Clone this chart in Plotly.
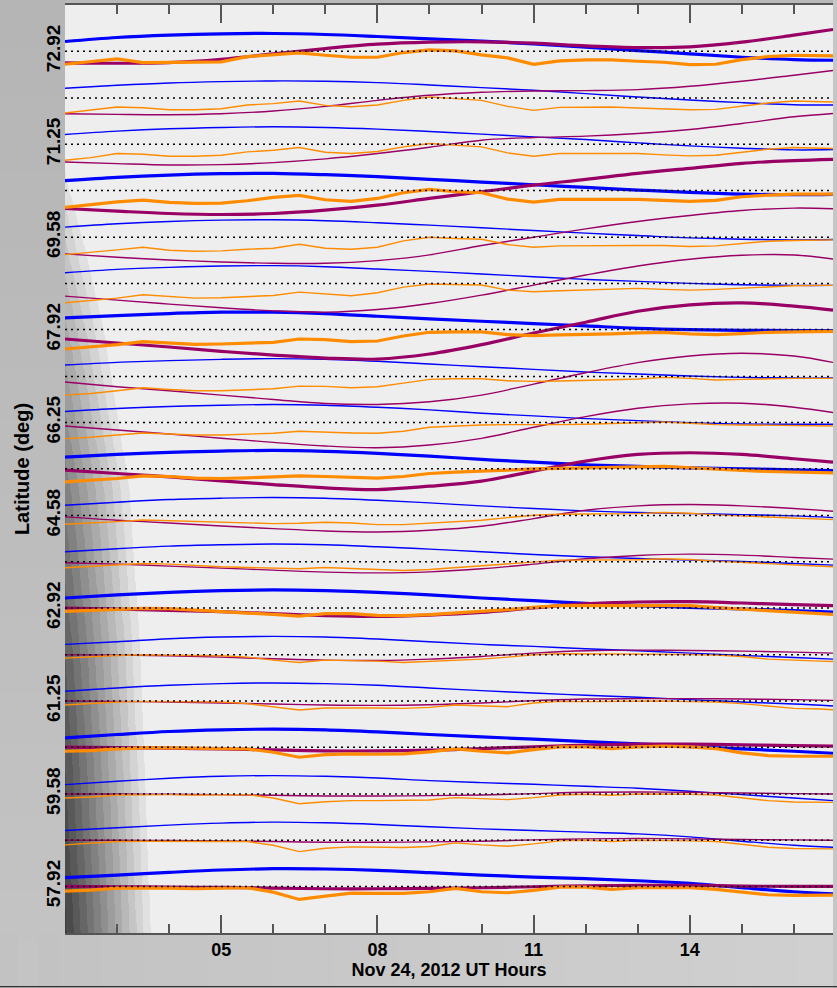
import numpy as np
import plotly.graph_objects as go

# ---------------------------------------------------------------- time axes
HOURS_SMOOTH = [2, 3, 4, 5, 6, 7, 8, 9, 10, 11, 12, 13, 14, 15, 16, 16.75]
HOURS_OBS = [2.0, 2.5, 3.0, 3.5, 4.0, 4.5, 5.0, 5.5, 6.0, 6.5, 7.0, 7.5, 8.0, 8.5,
             9.0, 9.5, 10.0, 10.5, 11.0, 11.5, 12.0, 12.5, 13.0, 13.5, 14.0, 14.5,
             15.0, 15.5, 16.0, 16.5, 16.75]

# ------------------------------------------------------- station baselines
ROW_LATS = [72.92, 72.08, 71.25, 70.42, 69.58, 68.75, 67.92, 67.08, 66.25, 65.42,
            64.58, 63.75, 62.92, 62.08, 61.25, 60.42, 59.58, 58.75, 57.92]
THICK_ROWS = [0, 3, 6, 9, 12, 15, 18]
LAT_TICKS = [72.92, 71.25, 69.58, 67.92, 66.25, 64.58, 62.92, 61.25, 59.58, 57.92]
LAT_LABELS = ["72.92", "71.25", "69.58", "67.92", "66.25", "64.58", "62.92",
              "61.25", "59.58", "57.92"]
HOUR_TICKS = [5, 8, 11, 14]
HOUR_LABELS = ["05", "08", "11", "14"]

# deflections in nT; one row spacing corresponds to 139 nT
ROW_SPACING_NT = 139.0

BLUE_NT = [
    [29, 41, 48, 52, 53, 50, 44, 37, 30, 22, 12, 2, -8, -18, -25, -27],
    [29, 38, 45, 49, 51, 50, 46, 39, 31, 23, 13, 3, -6, -14, -20, -21],
    [29, 39, 46, 50, 52, 50, 45, 38, 30, 22, 14, 4, -5, -12, -17, -16],
    [29, 39, 46, 50, 51, 47, 41, 33, 25, 17, 9, 1, -6, -11, -13, -12],
    [30, 40, 47, 51, 52, 49, 43, 36, 28, 20, 12, 5, -2, -6, -8, -7],
    [32, 42, 48, 52, 53, 50, 43, 36, 28, 20, 12, 6, 0, -4, -6, -6],
    [35, 42, 48, 52, 52, 48, 40, 32, 25, 18, 11, 4, 0, -2, -3, -3],
    [34, 42, 47, 51, 53, 51, 45, 37, 29, 21, 13, 7, 1, -3, -5, -5],
    [33, 42, 48, 52, 54, 52, 46, 38, 28, 20, 12, 6, 0, -4, -5, -5],
    [35, 43, 49, 53, 55, 52, 46, 38, 28, 20, 12, 7, 3, 0, -3, -5],
    [31, 40, 48, 52, 54, 52, 46, 38, 29, 21, 14, 9, 6, 3, -1, -6],
    [30, 39, 47, 51, 53, 51, 45, 38, 30, 22, 15, 10, 5, 1, -5, -10],
    [30, 39, 47, 52, 54, 52, 47, 39, 30, 22, 14, 7, 2, -3, -8, -12],
    [31, 39, 48, 53, 55, 53, 47, 39, 31, 25, 18, 12, 5, -2, -8, -13],
    [29, 39, 47, 52, 54, 52, 47, 39, 31, 24, 17, 11, 4, -3, -9, -15],
    [28, 38, 47, 52, 54, 52, 46, 38, 31, 24, 17, 10, 2, -5, -12, -18],
    [28, 38, 47, 53, 55, 53, 48, 40, 34, 29, 23, 17, 8, -2, -12, -20],
    [29, 37, 45, 51, 54, 52, 47, 40, 34, 29, 24, 19, 10, -3, -15, -21],
    [26, 34, 42, 49, 53, 52, 48, 41, 34, 28, 23, 17, 9, -4, -16, -22],
]

PURPLE_NT = [
    [-35, -36, -34, -24, -8, 8, 21, 27, 28, 24, 16, 11, 13, 27, 48, 65],
    [-47, -49, -50, -47, -39, -25, -7, 8, 17, 21, 22, 25, 35, 50, 68, 82],
    [-53, -58, -62, -61, -55, -44, -28, -9, 12, 20, 24, 32, 44, 62, 82, 92],
    [-54, -62, -69, -72, -69, -59, -44, -24, -4, 16, 33, 51, 66, 81, 89, 93],
    [-50, -60, -68, -74, -78, -78, -70, -53, -25, 0, 25, 47, 65, 80, 87, 85],
    [-38, -50, -62, -73, -82, -86, -78, -60, -35, -5, 25, 52, 72, 84, 85, 73],
    [-28, -40, -52, -65, -76, -85, -88, -73, -45, -10, 22, 55, 74, 80, 70, 58],
    [-17, -31, -43, -56, -69, -81, -84, -76, -56, -23, 11, 41, 61, 69, 61, 42],
    [-10, -22, -34, -47, -59, -70, -75, -67, -47, -14, 18, 43, 56, 58, 46, 30],
    [-4, -14, -24, -36, -47, -57, -62, -52, -37, -7, 23, 43, 48, 43, 30, 20],
    [-4, -14, -22, -31, -39, -46, -49, -44, -32, -9, 16, 29, 33, 29, 21, 13],
    [-3, -7, -13, -19, -25, -31, -33, -30, -21, -7, 9, 19, 23, 20, 13, 8],
    [0, -3, -7, -11, -17, -23, -25, -21, -13, 0, 13, 18, 19, 15, 10, 7],
    [0, -1, -3, -7, -12, -16, -17, -13, -5, 5, 12, 14, 13, 11, 8, 5],
    [0, -1, -3, -6, -9, -12, -13, -11, -6, 1, 6, 7, 7, 6, 4, 2],
    [0, -1, -3, -5, -8, -11, -11, -9, -4, 1, 6, 9, 9, 7, 5, 3],
    [0, 0, -1, -2, -4, -6, -6, -5, -3, 1, 5, 6, 5, 3, 1, 0],
    [0, 0, -1, -2, -4, -6, -6, -5, -3, 1, 4, 5, 4, 2, 1, 0],
    [0, -1, -2, -3, -5, -7, -7, -6, -4, -1, 2, 3, 3, 1, 0, 0],
]

ORANGE_NT = [
    [-39, -31, -23, -34, -33, -34, -32, -16, -11, -5, -12, -18, -18, -4, 4, 1, -11, -20, -39, -29, -26, -26, -30, -33, -40, -39, -25, -16, -12, -13, -14],
    [-45, -37, -27, -29, -35, -35, -32, -21, -17, -9, -22, -26, -21, -7, 3, -2, -7, -25, -37, -28, -27, -27, -30, -33, -35, -34, -25, -15, -9, -11, -12],
    [-48, -40, -28, -30, -36, -36, -33, -23, -18, -10, -24, -28, -22, -8, 2, -3, -8, -26, -36, -28, -28, -26, -28, -32, -35, -33, -23, -15, -10, -12, -13],
    [-51, -42, -34, -29, -36, -39, -38, -31, -21, -15, -28, -33, -24, -7, 3, -4, -7, -26, -35, -27, -27, -25, -27, -30, -33, -30, -19, -14, -11, -11, -11],
    [-52, -46, -38, -30, -39, -42, -41, -36, -33, -21, -33, -36, -30, -11, 0, -4, -6, -22, -30, -26, -25, -24, -25, -25, -28, -26, -18, -12, -10, -9, -8],
    [-58, -52, -44, -34, -40, -44, -43, -39, -36, -26, -32, -37, -28, -11, -2, -3, -5, -20, -25, -22, -20, -19, -15, -18, -20, -18, -14, -10, -7, -6, -6],
    [-58, -52, -45, -36, -40, -44, -43, -41, -38, -28, -30, -36, -34, -19, -8, -7, -7, -15, -18, -16, -15, -13, -10, -8, -13, -15, -12, -8, -7, -6, -5],
    [-56, -51, -43, -34, -39, -43, -43, -41, -37, -29, -30, -34, -31, -20, -9, -7, -7, -13, -15, -14, -11, -10, -8, -3, -6, -11, -9, -7, -6, -6, -6],
    [-48, -44, -37, -31, -34, -37, -37, -34, -32, -26, -29, -31, -32, -26, -14, -10, -7, -6, -7, -6, -5, -2, -1, 2, -2, -6, -7, -8, -8, -9, -10],
    [-39, -35, -29, -21, -23, -28, -29, -27, -25, -21, -23, -26, -28, -23, -14, -10, -8, -4, 0, 2, 2, 5, 6, 7, 3, -3, -5, -8, -10, -11, -12],
    [-26, -23, -18, -13, -15, -19, -21, -22, -24, -23, -20, -22, -27, -27, -22, -17, -14, -6, 1, 4, 4, 5, 6, 9, 7, 2, -1, -5, -7, -10, -12],
    [-18, -14, -9, -5, -7, -12, -15, -17, -20, -21, -17, -20, -25, -26, -23, -17, -13, -7, 0, 5, 5, 5, 6, 9, 7, 2, -2, -7, -10, -13, -15],
    [-10, -7, -4, -1, -2, -7, -11, -15, -19, -24, -17, -17, -22, -23, -20, -15, -12, -5, 2, 7, 7, 7, 7, 8, 7, 1, -4, -9, -13, -17, -19],
    [-10, -5, -2, 0, 0, -2, -3, -7, -16, -23, -16, -17, -19, -23, -20, -15, -13, -7, 0, 3, 3, 3, 3, 2, 1, -1, -5, -13, -17, -19, -20],
    [-12, -7, -3, -1, -1, -2, -3, -8, -18, -27, -21, -20, -21, -22, -19, -12, -14, -17, -6, -1, -2, -1, 0, 0, -2, -3, -8, -16, -22, -24, -26],
    [-12, -10, -5, -2, -2, -3, -4, -5, -15, -30, -22, -20, -21, -20, -14, -5, -12, -17, -7, 1, 1, -4, 1, 3, 1, -4, -17, -25, -27, -27, -27],
    [-12, -9, -3, -2, -2, -3, -3, -2, -12, -29, -23, -20, -20, -20, -18, -11, -15, -17, -11, -3, -1, -4, 0, 0, -1, -3, -12, -20, -24, -25, -25],
    [-14, -10, -4, -3, -4, -4, -4, -4, -15, -34, -24, -20, -21, -22, -19, -8, -14, -18, -11, -2, 0, -4, 0, 0, -2, -4, -13, -21, -25, -26, -26],
    [-14, -11, -5, -4, -5, -7, -6, -4, -17, -39, -29, -20, -21, -21, -16, -6, -16, -19, -12, -2, -2, -9, -4, -4, -4, -9, -17, -25, -27, -26, -26],
]

# night-side shading: latitude, width past 02 UT (hours), grey level at 02 UT
SHADE_LAT = [57.06, 59.63, 62.32, 65.02, 67.89, 69.51, 70.94]
SHADE_EDGE_H = [1.78, 1.69, 1.58, 1.40, 0.92, 0.52, 0.06]
SHADE_GREY = [58, 72, 90, 120, 165, 196, 228]

X_RANGE = [2.0, 16.75]
Y_RANGE = [57.0833, 73.75]

BLUE = "#0000ff"
PURPLE = "#990066"
ORANGE = "#ff8c00"
PLOT_BG = "#eeeeee"
FONT = "Liberation Sans, Arial, Helvetica, sans-serif"
TEXT = "#000000"

deg_per_nt = (ROW_LATS[0] - ROW_LATS[2]) / 2.0 / ROW_SPACING_NT

fig = go.Figure()

# ---------------------------------------------------------- shading field
t_grid = np.arange(2.0, 4.0, 0.01)
lat_grid = np.arange(Y_RANGE[0], Y_RANGE[1], 0.04)
edge = np.interp(lat_grid, SHADE_LAT, SHADE_EDGE_H, right=0.0)
left = (238.0 - np.interp(lat_grid, SHADE_LAT, SHADE_GREY, right=238.0)) / 190.0
frac = np.clip(1.0 - (t_grid[None, :] - 2.0) / np.maximum(edge[:, None], 1e-6), 0, 1)
shade = np.floor(left[:, None] * frac * 14.0) / 14.0
fig.add_trace(go.Heatmap(
    x=t_grid, y=lat_grid, z=shade, zmin=0, zmax=1, zsmooth=False,
    colorscale=[[0, PLOT_BG], [1, "#303030"]], showscale=False, hoverinfo="skip"))

# ---------------------------------------------------------- station traces
def row_width(i, thick, thin):
    return thick if i in THICK_ROWS else thin

for i, lat in enumerate(ROW_LATS):
    fig.add_trace(go.Scatter(
        x=HOURS_SMOOTH, y=[lat + v * deg_per_nt for v in BLUE_NT[i]],
        mode="lines", line=dict(color=BLUE, width=row_width(i, 3.2, 1.4),
                                shape="spline", smoothing=1.0),
        showlegend=False, hoverinfo="skip"))
for i, lat in enumerate(ROW_LATS):
    fig.add_trace(go.Scatter(
        x=HOURS_SMOOTH, y=[lat + v * deg_per_nt for v in PURPLE_NT[i]],
        mode="lines", line=dict(color=PURPLE, width=row_width(i, 3.2, 1.4),
                                shape="spline", smoothing=1.0),
        showlegend=False, hoverinfo="skip"))
for i, lat in enumerate(ROW_LATS):
    fig.add_trace(go.Scatter(
        x=HOURS_OBS, y=[lat + v * deg_per_nt for v in ORANGE_NT[i]],
        mode="lines", line=dict(color=ORANGE, width=row_width(i, 3.2, 1.4)),
        showlegend=False, hoverinfo="skip"))
for lat in ROW_LATS:
    fig.add_trace(go.Scatter(
        x=X_RANGE, y=[lat, lat], mode="lines",
        line=dict(color="#000000", width=1.5, dash="2px,4px"),
        showlegend=False, hoverinfo="skip"))

# ------------------------------------------------------- margin backdrop
shapes = []
n_strips = 40
for k in range(n_strips):
    y0 = -0.062 + k * (1.07 / n_strips)
    y1 = y0 + 1.07 / n_strips + 0.001
    g = int(round(196 - 15 * k / (n_strips - 1)))
    shapes.append(dict(type="rect", xref="paper", yref="paper", x0=-0.1, x1=0.0,
                       y0=y0, y1=y1, fillcolor=f"rgb({g},{g},{g})",
                       line=dict(width=0), layer="below"))
for k in range(n_strips):
    x0 = -0.09 + k * (1.1 / n_strips)
    x1 = x0 + 1.1 / n_strips + 0.001
    g = int(round(194 + 14 * k / (n_strips - 1)))
    shapes.append(dict(type="rect", xref="paper", yref="paper", x0=max(x0, 0.0) if k else -0.1,
                       x1=x1, y0=-0.07, y1=0.0, fillcolor=f"rgb({g},{g},{g})",
                       line=dict(width=0), layer="below"))
shapes.append(dict(type="rect", xref="paper", yref="paper", x0=1.0, x1=1.02,
                   y0=-0.07, y1=1.02, fillcolor="rgb(198,198,198)",
                   line=dict(width=0), layer="below"))
shapes.append(dict(type="line", xref="paper", yref="paper", x0=-0.1, x1=1.02,
                   y0=-0.0577, y1=-0.0577, line=dict(color="#333333", width=1.2)))

fig.update_layout(
    width=837, height=988,
    margin=dict(l=65, r=4, t=5, b=55),
    paper_bgcolor="rgb(184,184,184)",
    plot_bgcolor=PLOT_BG,
    shapes=shapes,
    showlegend=False,
    font=dict(family=FONT, size=18, color=TEXT, weight="bold"),
    xaxis=dict(
        range=X_RANGE, showgrid=False, zeroline=False,
        showline=True, linecolor="#555555", linewidth=1.5, mirror="ticks",
        ticks="inside", ticklen=18, tickwidth=1.5, tickcolor="#555555",
        tickvals=HOUR_TICKS, ticktext=HOUR_LABELS,
        tickfont=dict(family=FONT, size=18, color=TEXT, weight="bold"),
        minor=dict(ticks="inside", ticklen=9, tickwidth=1.5, tickcolor="#555555",
                   dtick=1, tick0=2, showgrid=False),
        title=dict(text="Nov 24, 2012 UT Hours", standoff=2,
                   font=dict(family=FONT, size=18, color=TEXT, weight="bold")),
    ),
    yaxis=dict(
        range=Y_RANGE, showgrid=False, zeroline=False, showline=False,
        ticks="", tickvals=LAT_TICKS, ticktext=LAT_LABELS, tickangle=-90,
        tickfont=dict(family=FONT, size=19, color=TEXT, weight="bold"),
        title=dict(text="Latitude (deg)", standoff=8,
                   font=dict(family=FONT, size=20, color=TEXT, weight="bold")),
    ),
)

fig.write_html("out.html")
